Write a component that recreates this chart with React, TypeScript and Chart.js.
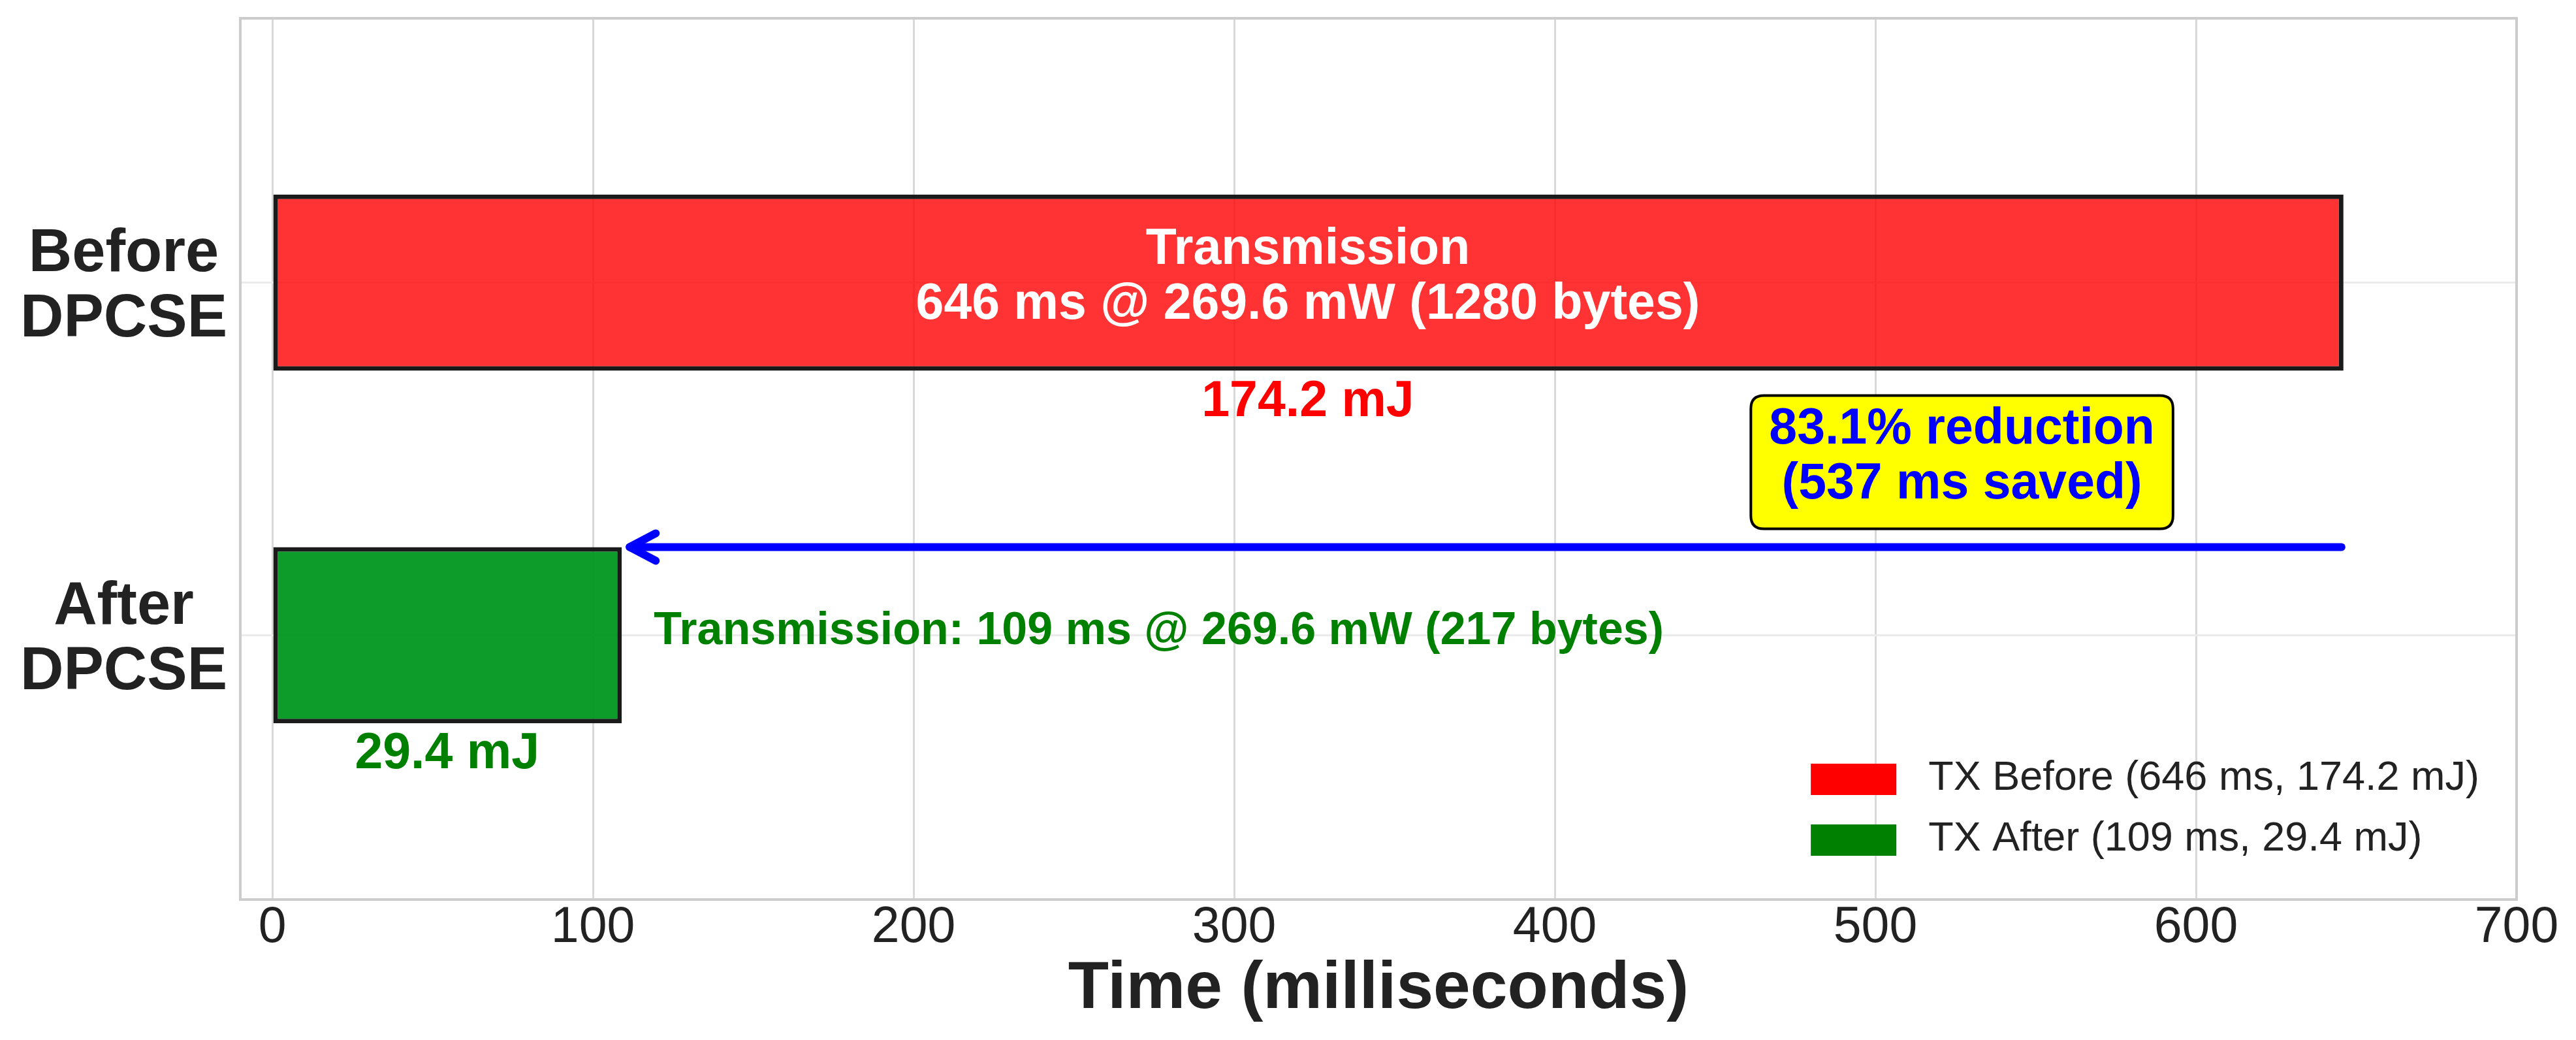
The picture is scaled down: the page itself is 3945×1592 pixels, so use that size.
import React, { useEffect, useRef } from 'react';
import { Chart, registerables } from 'chart.js';

Chart.register(...registerables);

// ---------- data ----------
const CATEGORY_LINES: string[][] = [['Before', 'DPCSE'], ['After', 'DPCSE']];
const CATEGORY_POS = [1, 0];
const DURATIONS_MS = [646, 109];
const SERIES_LABELS = ['TX Before (646 ms, 174.2 mJ)', 'TX After (109 ms, 29.4 mJ)'];
const ENERGY_LABELS = ['174.2 mJ', '29.4 mJ'];
const INNER_LABEL = ['Transmission', '646 ms @ 269.6 mW (1280 bytes)'];
const SIDE_LABEL = 'Transmission: 109 ms @ 269.6 mW (217 bytes)';
const REDUCTION_LINES = ['83.1% reduction', '(537 ms saved)'];
const REDUCTION_AT_MS = 527;
const REDUCTION_AT_Y = 0.5;
const ARROW_FROM_MS = 646;
const ARROW_TO_MS = 109;
const ARROW_Y = 0.25;
const ENERGY_OFFSET_Y = -0.35;
const SIDE_GAP_MS = 10;
const X_TICKS = [0, 100, 200, 300, 400, 500, 600, 700];
const Y_TICKS = [0, 1];
const X_MIN = -10;
const X_MAX = 700;
const Y_MIN = -0.75;
const Y_MAX = 1.75;
const X_TITLE = 'Time (milliseconds)';

// ---------- styles ----------
const FONT = "'Liberation Sans', Arial, Helvetica, sans-serif";
const BAR_FILLS = ['rgba(255,0,0,0.8)', 'rgba(0,150,30,0.95)'];
const LEGEND_SWATCHES = ['#ff0000', '#008000'];
const ENERGY_COLORS = ['#ff0000', '#008000'];
const W = 3945;
const H = 1592;

function roundRectPath(ctx: CanvasRenderingContext2D, x: number, y: number, w: number, h: number, r: number) {
  ctx.beginPath();
  ctx.moveTo(x + r, y);
  ctx.lineTo(x + w - r, y);
  ctx.quadraticCurveTo(x + w, y, x + w, y + r);
  ctx.lineTo(x + w, y + h - r);
  ctx.quadraticCurveTo(x + w, y + h, x + w - r, y + h);
  ctx.lineTo(x + r, y + h);
  ctx.quadraticCurveTo(x, y + h, x, y + h - r);
  ctx.lineTo(x, y + r);
  ctx.quadraticCurveTo(x, y, x + r, y);
  ctx.closePath();
}

const annotatePlugin = {
  id: 'annotate',
  beforeDatasetsDraw(chart: any) {
    const { ctx, chartArea: a } = chart;
    ctx.save();
    ctx.strokeStyle = '#cccccc';
    ctx.lineWidth = 4;
    ctx.strokeRect(a.left, a.top, a.right - a.left, a.bottom - a.top);
    ctx.restore();
  },
  afterDatasetsDraw(chart: any) {
    const { ctx, chartArea: a } = chart;
    const xs = chart.scales.x;
    const ys = chart.scales.y;
    ctx.save();
    ctx.textBaseline = 'middle';

    // white label inside the Before bar
    ctx.font = `bold 77px ${FONT}`;
    ctx.textAlign = 'center';
    ctx.fillStyle = '#ffffff';
    const bx = xs.getPixelForValue(DURATIONS_MS[0] / 2);
    const by = ys.getPixelForValue(CATEGORY_POS[0]);
    ctx.fillText(INNER_LABEL[0], bx, by - 50);
    ctx.fillText(INNER_LABEL[1], bx, by + 34);

    // energy labels under bars
    ENERGY_LABELS.forEach((t, i) => {
      ctx.fillStyle = ENERGY_COLORS[i];
      ctx.fillText(
        t,
        xs.getPixelForValue(DURATIONS_MS[i] / 2),
        ys.getPixelForValue(CATEGORY_POS[i] + ENERGY_OFFSET_Y) - 6
      );
    });

    // side label for After bar
    ctx.font = `bold 70px ${FONT}`;
    ctx.textAlign = 'left';
    ctx.fillStyle = '#008000';
    ctx.fillText(
      SIDE_LABEL,
      xs.getPixelForValue(DURATIONS_MS[1] + SIDE_GAP_MS),
      ys.getPixelForValue(CATEGORY_POS[1]) - 6
    );

    // arrow
    const ay = ys.getPixelForValue(ARROW_Y);
    const tipX = xs.getPixelForValue(ARROW_TO_MS) + 12;
    const tailX = xs.getPixelForValue(ARROW_FROM_MS) - 3;
    ctx.strokeStyle = '#0000ff';
    ctx.lineWidth = 12;
    ctx.lineCap = 'round';
    ctx.lineJoin = 'round';
    ctx.beginPath();
    ctx.moveTo(tailX, ay);
    ctx.lineTo(tipX, ay);
    ctx.stroke();
    ctx.beginPath();
    ctx.moveTo(tipX + 40, ay - 21);
    ctx.lineTo(tipX, ay);
    ctx.lineTo(tipX + 40, ay + 21);
    ctx.stroke();

    // reduction box
    const cx = xs.getPixelForValue(REDUCTION_AT_MS);
    const cy = ys.getPixelForValue(REDUCTION_AT_Y);
    ctx.font = `bold 77px ${FONT}`;
    const tw = Math.max(...REDUCTION_LINES.map((t) => ctx.measureText(t).width));
    const bw = tw + 56;
    roundRectPath(ctx, cx - bw / 2, cy - 97, bw, 204, 20);
    ctx.fillStyle = '#ffff00';
    ctx.fill();
    ctx.lineWidth = 4;
    ctx.strokeStyle = '#000000';
    ctx.stroke();
    ctx.fillStyle = '#0000ff';
    ctx.textAlign = 'center';
    ctx.fillText(REDUCTION_LINES[0], cx, cy - 45);
    ctx.fillText(REDUCTION_LINES[1], cx, cy + 39);

    // legend (lower right, inside the plot)
    ctx.font = `63px ${FONT}`;
    const labels = chart.data.datasets.map((d: any) => d.label as string);
    const maxW = Math.max(...labels.map((t: string) => ctx.measureText(t).width));
    const textLeft = a.right - 57 - maxW;
    const rowCenters = [a.bottom - 184, a.bottom - 91];
    labels.forEach((t: string, i: number) => {
      const rc = rowCenters[i];
      ctx.fillStyle = LEGEND_SWATCHES[i];
      ctx.fillRect(textLeft - 180, rc - 24, 131, 48);
      ctx.fillStyle = '#222222';
      ctx.textAlign = 'left';
      ctx.fillText(t, textLeft, rc - 1);
    });

    ctx.restore();
  },
};

export default function App() {
  const ref = useRef<HTMLCanvasElement>(null);

  useEffect(() => {
    if (!ref.current) return;
    Chart.defaults.color = '#222222';
    const chart = new Chart(ref.current, {
      type: 'bar',
      data: {
        datasets: DURATIONS_MS.map((d, i) => ({
          label: SERIES_LABELS[i],
          data: [{ x: d, y: CATEGORY_POS[i] }],
          backgroundColor: BAR_FILLS[i],
          borderColor: '#1a1a1a',
          borderWidth: 7,
          borderSkipped: false,
          grouped: false,
          categoryPercentage: 1,
          barPercentage: 0.5,
        })),
      },
      options: {
        indexAxis: 'y',
        responsive: false,
        animation: false,
        devicePixelRatio: 1,
        events: [],
        layout: { padding: { top: 28, right: 91, left: 0, bottom: 0 } },
        plugins: {
          legend: { display: false },
          tooltip: { enabled: false },
        },
        scales: {
          x: {
            type: 'linear',
            position: 'bottom',
            min: X_MIN,
            max: X_MAX,
            offset: false,
            afterBuildTicks: (s: any) => {
              s.ticks = X_TICKS.map((v) => ({ value: v }));
            },
            afterFit: (s: any) => {
              s.height = 215;
              s.paddingLeft = 0;
              s.paddingRight = 0;
            },
            grid: { color: '#d9d9d9', lineWidth: 3, drawTicks: false, offset: false },
            border: { display: false },
            ticks: {
              font: { family: FONT, size: 77, lineHeight: 1 },
              color: '#222222',
              padding: 5,
              maxRotation: 0,
              autoSkip: false,
            },
            title: {
              display: true,
              text: X_TITLE,
              color: '#222222',
              font: { family: FONT, size: 102, weight: 'bold', lineHeight: 1 },
              padding: { top: 0, bottom: 26 },
            },
          },
          y: {
            type: 'linear',
            min: Y_MIN,
            max: Y_MAX,
            offset: false,
            afterBuildTicks: (s: any) => {
              s.ticks = Y_TICKS.map((v) => ({ value: v }));
            },
            afterFit: (s: any) => {
              s.width = 368;
              s.paddingTop = 0;
              s.paddingBottom = 0;
            },
            grid: { color: '#ebebeb', lineWidth: 3, drawTicks: false, offset: false },
            border: { display: false },
            ticks: {
              callback: (v: any) => {
                const i = CATEGORY_POS.indexOf(Number(v));
                return i >= 0 ? CATEGORY_LINES[i] : '';
              },
              font: { family: FONT, size: 92, weight: 'bold', lineHeight: 100 / 92 },
              color: '#222222',
              padding: 20,
              crossAlign: 'center',
              labelOffset: 7,
            },
          },
        },
      } as any,
      plugins: [annotatePlugin],
    });
    return () => chart.destroy();
  }, []);

  return (
    <div style={{ position: 'absolute', left: 0, top: 0, width: W, height: H, background: '#ffffff' }}>
      <canvas ref={ref} width={W} height={H} style={{ width: W, height: H, display: 'block' }} />
    </div>
  );
}
